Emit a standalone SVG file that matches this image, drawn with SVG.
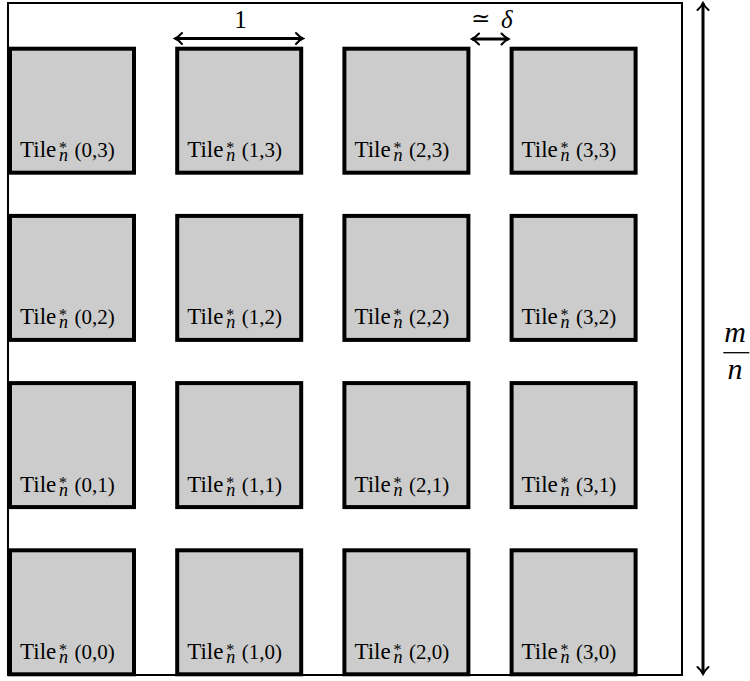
<svg xmlns="http://www.w3.org/2000/svg" width="750" height="681" viewBox="0 0 750 681">
<style>
.tile{fill:#cccccc;stroke:#000;stroke-width:4}
.frame{fill:none;stroke:#000;stroke-width:2}
.conn{stroke:#000;stroke-width:3;fill:none}
text{fill:#000;font-family:"Liberation Serif",serif}
.tl{font-size:23px}
.sp{font-size:16px}
.sb{font-size:18px;font-style:italic}
.pr{font-size:21px}
</style>
<defs>
<marker id="arr" viewBox="-10 -8 12 16" markerWidth="12" markerHeight="16" refX="0" refY="0" orient="auto-start-reverse" markerUnits="userSpaceOnUse">
<path d="M-7,-5.5 Q-3,-1.2 0,0 Q-3,1.2 -7,5.5" fill="none" stroke="#000" stroke-width="2" stroke-linecap="round"/>
</marker>
</defs>
<rect id="frame" class="frame" x="8" y="3" width="674" height="672"/>
<g id="tile-0-3" transform="translate(8,46.7)"><rect class="tile" x="2" y="2" width="124" height="124"/><text class="tl" x="12" y="110.5">Tile<tspan class="sp" x="51" dy="-4">*</tspan><tspan class="sb" x="51" dy="8">n</tspan><tspan class="pr" x="66.5" dy="-4">(0,3)</tspan></text></g>
<g id="tile-1-3" transform="translate(175.2,46.7)"><rect class="tile" x="2" y="2" width="124" height="124"/><text class="tl" x="12" y="110.5">Tile<tspan class="sp" x="51" dy="-4">*</tspan><tspan class="sb" x="51" dy="8">n</tspan><tspan class="pr" x="66.5" dy="-4">(1,3)</tspan></text></g>
<g id="tile-2-3" transform="translate(342.4,46.7)"><rect class="tile" x="2" y="2" width="124" height="124"/><text class="tl" x="12" y="110.5">Tile<tspan class="sp" x="51" dy="-4">*</tspan><tspan class="sb" x="51" dy="8">n</tspan><tspan class="pr" x="66.5" dy="-4">(2,3)</tspan></text></g>
<g id="tile-3-3" transform="translate(509.6,46.7)"><rect class="tile" x="2" y="2" width="124" height="124"/><text class="tl" x="12" y="110.5">Tile<tspan class="sp" x="51" dy="-4">*</tspan><tspan class="sb" x="51" dy="8">n</tspan><tspan class="pr" x="66.5" dy="-4">(3,3)</tspan></text></g>
<g id="tile-0-2" transform="translate(8,213.9)"><rect class="tile" x="2" y="2" width="124" height="124"/><text class="tl" x="12" y="110.5">Tile<tspan class="sp" x="51" dy="-4">*</tspan><tspan class="sb" x="51" dy="8">n</tspan><tspan class="pr" x="66.5" dy="-4">(0,2)</tspan></text></g>
<g id="tile-1-2" transform="translate(175.2,213.9)"><rect class="tile" x="2" y="2" width="124" height="124"/><text class="tl" x="12" y="110.5">Tile<tspan class="sp" x="51" dy="-4">*</tspan><tspan class="sb" x="51" dy="8">n</tspan><tspan class="pr" x="66.5" dy="-4">(1,2)</tspan></text></g>
<g id="tile-2-2" transform="translate(342.4,213.9)"><rect class="tile" x="2" y="2" width="124" height="124"/><text class="tl" x="12" y="110.5">Tile<tspan class="sp" x="51" dy="-4">*</tspan><tspan class="sb" x="51" dy="8">n</tspan><tspan class="pr" x="66.5" dy="-4">(2,2)</tspan></text></g>
<g id="tile-3-2" transform="translate(509.6,213.9)"><rect class="tile" x="2" y="2" width="124" height="124"/><text class="tl" x="12" y="110.5">Tile<tspan class="sp" x="51" dy="-4">*</tspan><tspan class="sb" x="51" dy="8">n</tspan><tspan class="pr" x="66.5" dy="-4">(3,2)</tspan></text></g>
<g id="tile-0-1" transform="translate(8,381.1)"><rect class="tile" x="2" y="2" width="124" height="124"/><text class="tl" x="12" y="110.5">Tile<tspan class="sp" x="51" dy="-4">*</tspan><tspan class="sb" x="51" dy="8">n</tspan><tspan class="pr" x="66.5" dy="-4">(0,1)</tspan></text></g>
<g id="tile-1-1" transform="translate(175.2,381.1)"><rect class="tile" x="2" y="2" width="124" height="124"/><text class="tl" x="12" y="110.5">Tile<tspan class="sp" x="51" dy="-4">*</tspan><tspan class="sb" x="51" dy="8">n</tspan><tspan class="pr" x="66.5" dy="-4">(1,1)</tspan></text></g>
<g id="tile-2-1" transform="translate(342.4,381.1)"><rect class="tile" x="2" y="2" width="124" height="124"/><text class="tl" x="12" y="110.5">Tile<tspan class="sp" x="51" dy="-4">*</tspan><tspan class="sb" x="51" dy="8">n</tspan><tspan class="pr" x="66.5" dy="-4">(2,1)</tspan></text></g>
<g id="tile-3-1" transform="translate(509.6,381.1)"><rect class="tile" x="2" y="2" width="124" height="124"/><text class="tl" x="12" y="110.5">Tile<tspan class="sp" x="51" dy="-4">*</tspan><tspan class="sb" x="51" dy="8">n</tspan><tspan class="pr" x="66.5" dy="-4">(3,1)</tspan></text></g>
<g id="tile-0-0" transform="translate(8,548.3)"><rect class="tile" x="2" y="2" width="124" height="124"/><text class="tl" x="12" y="110.5">Tile<tspan class="sp" x="51" dy="-4">*</tspan><tspan class="sb" x="51" dy="8">n</tspan><tspan class="pr" x="66.5" dy="-4">(0,0)</tspan></text></g>
<g id="tile-1-0" transform="translate(175.2,548.3)"><rect class="tile" x="2" y="2" width="124" height="124"/><text class="tl" x="12" y="110.5">Tile<tspan class="sp" x="51" dy="-4">*</tspan><tspan class="sb" x="51" dy="8">n</tspan><tspan class="pr" x="66.5" dy="-4">(1,0)</tspan></text></g>
<g id="tile-2-0" transform="translate(342.4,548.3)"><rect class="tile" x="2" y="2" width="124" height="124"/><text class="tl" x="12" y="110.5">Tile<tspan class="sp" x="51" dy="-4">*</tspan><tspan class="sb" x="51" dy="8">n</tspan><tspan class="pr" x="66.5" dy="-4">(2,0)</tspan></text></g>
<g id="tile-3-0" transform="translate(509.6,548.3)"><rect class="tile" x="2" y="2" width="124" height="124"/><text class="tl" x="12" y="110.5">Tile<tspan class="sp" x="51" dy="-4">*</tspan><tspan class="sb" x="51" dy="8">n</tspan><tspan class="pr" x="66.5" dy="-4">(3,0)</tspan></text></g>
<g id="connectors">
<line class="conn" x1="175" y1="38.5" x2="303" y2="38.5" marker-start="url(#arr)" marker-end="url(#arr)"/>
<line class="conn" x1="472" y1="39" x2="508.5" y2="39" marker-start="url(#arr)" marker-end="url(#arr)"/>
<line class="conn" x1="703" y1="3" x2="703" y2="674" marker-start="url(#arr)" marker-end="url(#arr)"/>
</g>
<g id="labels">
<text x="240.5" y="28.3" font-size="25" text-anchor="middle">1</text>
<text x="471" y="26" font-size="23" style="font-family:'DejaVu Serif',serif">≃</text>
<text x="501" y="28" font-size="25" font-style="italic">δ</text>
<text x="735" y="341.7" font-size="30" font-style="italic" text-anchor="middle">m</text>
<line x1="723.3" y1="352.7" x2="749.3" y2="352.7" stroke="#000" stroke-width="1.3"/>
<text x="735" y="378.5" font-size="30" font-style="italic" text-anchor="middle">n</text>
</g>
</svg>
